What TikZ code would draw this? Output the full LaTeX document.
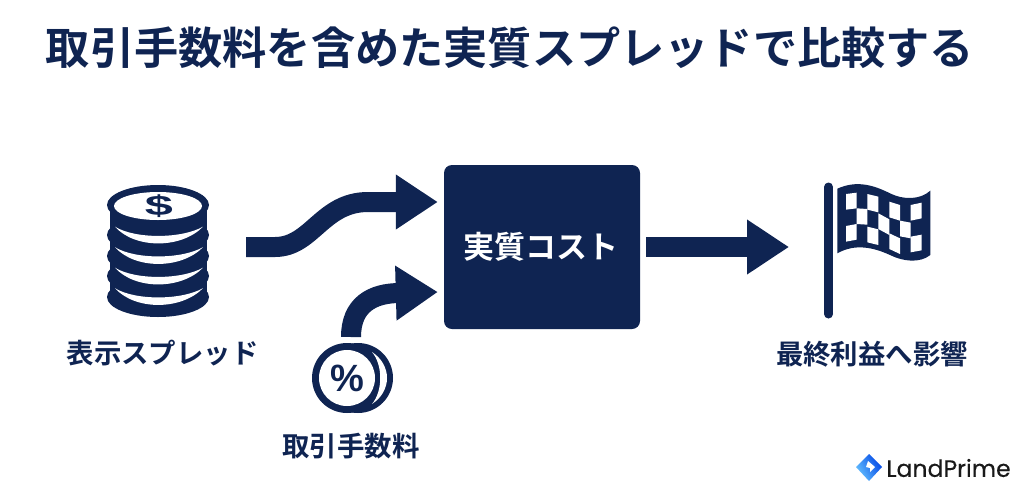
\documentclass[tikz,border=0pt]{standalone}
\usepackage{fontspec}
\setmainfont{Noto Sans CJK JP}[BoldFont={Noto Sans CJK JP Bold}]
\newfontfamily\latinbold{Liberation Sans Bold}
\newfontfamily\logofont{Poppins}[FakeBold=0.25]
\usetikzlibrary{arrows.meta}
\definecolor{navy}{HTML}{0F2452}
\tikzset{
  x=1pt,y=-1pt,
  flow/.style={draw=navy,line width=20pt,line cap=butt,-{Triangle[length=42pt,width=52pt]}},
  label/.style={font=\fontsize{27.4}{30}\selectfont\bfseries,text=navy,inner sep=0pt},
  core/.style={fill=navy,rounded corners=8pt,minimum width=196pt,minimum height=164pt,inner sep=0pt},
  icon/.style={minimum width=1pt,minimum height=1pt,inner sep=0pt},
  cell/.style={fill=white,draw=none},
}
\begin{document}
\begin{tikzpicture}
\useasboundingbox (0,0) rectangle (1024,496);
\fill[white] (0,0) rectangle (1024,496);
% title
\node[inner sep=0pt,text=navy,font=\fontsize{44.2}{48}\selectfont\bfseries] (title) at (510,48) {取引手数料を含めた実質スプレッドで比較する};
% centre
\node[core] (cost) at (542,247) {};
\node[inner sep=0pt,text=white,font=\fontsize{31}{33}\selectfont\bfseries] (costtext) at (541,247) {実質コスト};
% coins
\foreach \b in {255,276,296,317}{
  \fill[navy] (158,\b-20) ellipse [x radius=51,y radius=20];
}
\fill[navy] (110,205) rectangle (207,297);
\foreach \o in {0,20.5,41,61.5}{
  \fill[white] (115,226.7+\o) .. controls (135,239+\o) and (181,239+\o) .. (203,226.7+\o)
     .. controls (181,249+\o) and (135,249+\o) .. cycle;
}
\fill[navy] (158,205) ellipse [x radius=51,y radius=20];
\fill[white] (158,206) ellipse [x radius=44,y radius=14];
\node[inner sep=0pt,text=navy,font=\latinbold\fontsize{28}{28}\selectfont,xscale=1.8] (dollar) at (159,206) {\$};
\node[icon] (coins) at (158,251) {};
\node[label] (spread) at (162.5,353) {表示スプレッド};
% percent coin
\fill[navy] (358,378) circle [radius=35];
\fill[navy] (347,378) circle [radius=35];
\fill[white] (372,352) .. controls (392,365) and (392,391) .. (372,404)
   .. controls (383,391) and (383,365) .. cycle;
\fill[white] (347,378) circle [radius=28];
\node[inner sep=0pt,text=navy,font=\latinbold\fontsize{38}{38}\selectfont] (pct) at (347,378) {\%};
\node[icon] (feecoin) at (351,343) {};
\node[label] (fee) at (351,446) {取引手数料};
% flag
\fill[navy] (824,187) rectangle (833,314);
\fill[navy] (828.5,187) circle [radius=4.5] (828.5,314) circle [radius=4.5];
\begin{scope}[shift={(760,170)},x=0.3333pt,y=-0.3333pt]
\fill[navy] (232,56) .. controls (290,30) and (340,45) .. (390,70)
  .. controls (430,90) and (480,90) .. (511,62) -- (511,255)
  .. controls (480,280) and (430,275) .. (390,255)
  .. controls (340,232) and (285,220) .. (232,250) -- cycle;
\foreach \xa/\xb/\ya/\yb in {
  258/290/72/68, 322/355/72/80, 388/420/95/105, 452/485/105/98,
  290/322/115/117, 355/388/130/148, 420/452/152/158,
  258/290/168/162, 322/355/170/178, 388/420/190/205, 452/485/200/194}{
  \fill[cell] (\xa,\ya) -- (\xb,\yb) -- (\xb,\yb+47) -- (\xa,\ya+47) -- cycle;
}
\end{scope}
\node[icon] (flag) at (824,247) {};
\node[label] (profit) at (872,354) {最終利益へ影響};
% connectors
\coordinate (spreadout) at (246,247);
\draw[flow] (spreadout) -- (275,247) .. controls (312,247) and (322,202) .. (368,202) -- ([xshift=-6pt,yshift=45pt]cost.west);
\draw[flow] (feecoin.center)++(0,-6) .. controls (351,305) and (372,293) .. (400,293) -- ([xshift=-6pt,yshift=-45pt]cost.west);
\coordinate (costout) at (646,247);
\draw[flow] (costout) -- ([xshift=-35pt]flag.center);
% logo
\shade[left color=blue!70!cyan!90!black,right color=blue!40!cyan!60!white,shading angle=-60]
  (869,454) -- (882,467) -- (869,481) -- (856,467) -- cycle;
\fill[white] (868,461) -- (875,467) -- (870,472) -- (870,468) -- (866,467) -- cycle;
\node[inner sep=0pt,text=black!90,font=\logofont\fontsize{23.6}{25}\selectfont] (logo) at (948.5,468) {LandPrime};
\end{tikzpicture}
\end{document}
